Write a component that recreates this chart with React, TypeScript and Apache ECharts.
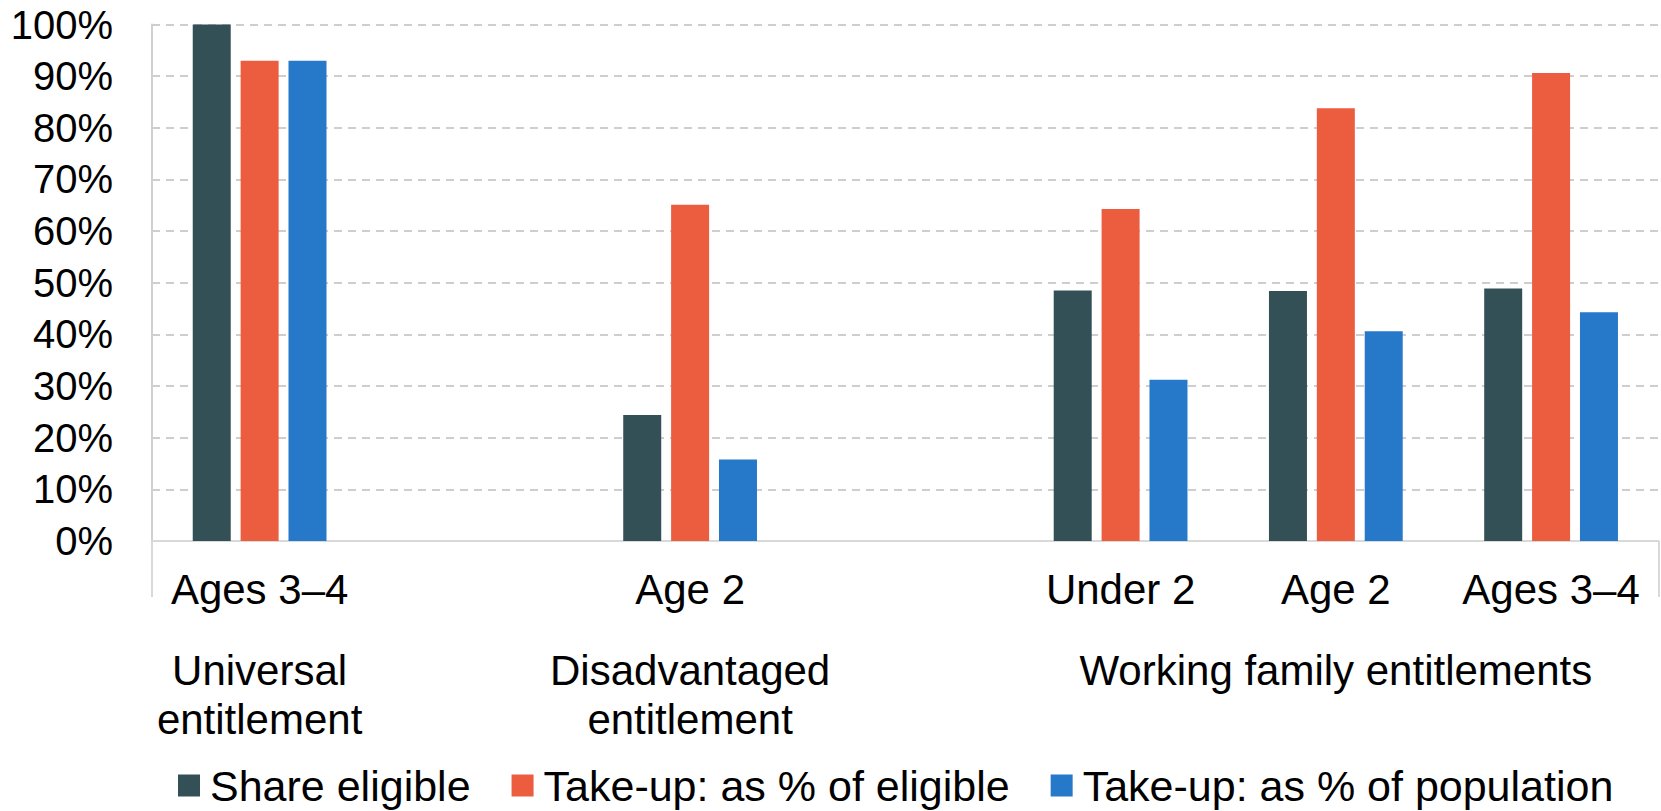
import { useEffect, useRef } from "react";
import * as echarts from "echarts";

const categories = ["Ages 3–4", "", "Age 2", "", "Under 2", "Age 2", "Ages 3–4"];
const groupLabels = [
  "Universal\nentitlement",
  "",
  "Disadvantaged\nentitlement",
  "",
  "",
  "Working family entitlements",
  "",
];
const seriesNames = [
  "Share eligible",
  "Take-up: as % of eligible",
  "Take-up: as % of population",
];
const shareEligible = [100, null, 24.4, null, 48.5, 48.4, 48.9];
const takeUpEligible = [93.0, null, 65.1, null, 64.3, 83.8, 90.6];
const takeUpPopulation = [93.0, null, 15.8, null, 31.2, 40.6, 44.3];
const colors = ["#335057", "#EC5D40", "#2678C9"];

const FONT = "'Liberation Sans', Arial, sans-serif";

export default function App() {
  const ref = useRef<HTMLDivElement>(null);

  useEffect(() => {
    if (!ref.current) return;
    const chart = echarts.init(ref.current, undefined, { renderer: "svg" });
    const values = [shareEligible, takeUpEligible, takeUpPopulation];
    chart.setOption({
      animation: false,
      backgroundColor: "#ffffff",
      grid: { left: 152, right: 2.3, top: 24.5, bottom: 270, containLabel: false },
      legend: {
        data: seriesNames,
        left: 178,
        top: 764,
        padding: 0,
        icon: "rect",
        itemWidth: 22,
        itemHeight: 22,
        itemGap: 41,
        textStyle: {
          fontSize: 43,
          color: "#000",
          fontFamily: FONT,
          padding: [0, 0, 0, 5],
        },
      },
      xAxis: [
        {
          type: "category",
          data: categories,
          position: "bottom",
          axisLine: { show: true, lineStyle: { color: "#d9d9d9", width: 2 } },
          axisTick: {
            show: true,
            length: 56,
            interval: (i: number) => i === 0,
            lineStyle: { color: "#d9d9d9", width: 2 },
          },
          axisLabel: {
            interval: 0,
            fontSize: 42,
            color: "#000",
            fontFamily: FONT,
            margin: 27,
          },
          splitLine: { show: false },
        },
        {
          type: "category",
          data: groupLabels,
          position: "bottom",
          offset: 0,
          axisLine: { show: false },
          axisTick: { show: false },
          axisLabel: {
            interval: 0,
            fontSize: 42,
            lineHeight: 49,
            color: "#000",
            fontFamily: FONT,
            margin: 105,
          },
          splitLine: { show: false },
        },
      ],
      yAxis: {
        type: "value",
        min: 0,
        max: 100,
        interval: 10,
        axisLine: { show: true, lineStyle: { color: "#d0d0d0", width: 2 } },
        axisTick: { show: false },
        axisLabel: {
          formatter: (v: number) => `${v}%`,
          fontSize: 40,
          color: "#000",
          fontFamily: FONT,
          margin: 39,
        },
        splitLine: {
          show: true,
          lineStyle: { color: "#bfbfbf", width: 1.5, type: [8, 6] },
        },
      },
      series: seriesNames.map((name, i) => ({
        name,
        type: "bar",
        xAxisIndex: 0,
        data: values[i],
        barWidth: 38,
        barGap: "26%",
        itemStyle: { color: colors[i] },
      })),
    });
    return () => chart.dispose();
  }, []);

  return (
    <div
      ref={ref}
      style={{ position: "fixed", left: 0, top: 0, width: 1661, height: 811 }}
    />
  );
}
